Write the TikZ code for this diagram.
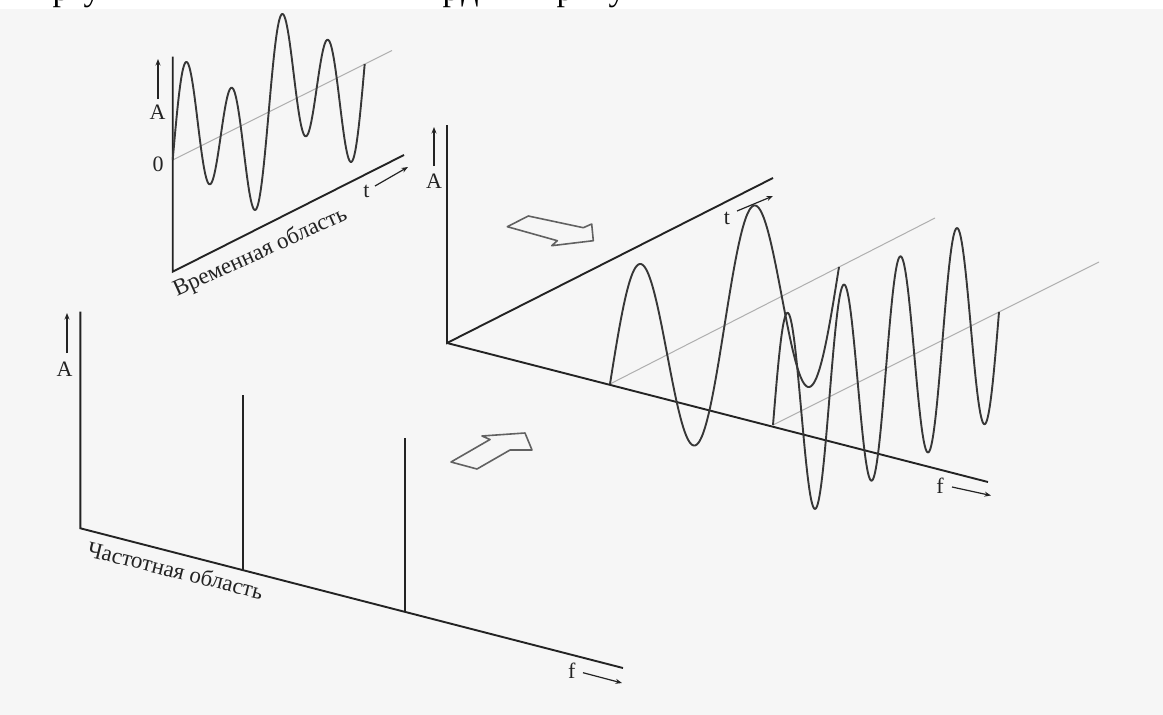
\documentclass[tikz,border=0pt]{standalone}
\usepackage{fontspec}
\setmainfont{Liberation Serif}
\usetikzlibrary{arrows.meta}
\definecolor{bgcol}{RGB}{246,246,246}
\definecolor{ink}{RGB}{35,35,35}
\definecolor{waveink}{RGB}{55,55,55}
\definecolor{zerogray}{RGB}{175,175,175}
\begin{document}
\begin{tikzpicture}[x=1pt,y=-1pt,
  axisline/.style={draw=ink, line width=1.9pt},
  specline/.style={draw=ink, line width=1.6pt},
  waveline/.style={draw=waveink, line width=1.9pt, line join=round},
  zeroline/.style={draw=zerogray, line width=1pt},
  lblarrow/.style={draw=ink, line width=1.2pt, -{Stealth[length=6.5pt,width=5pt]}},
  lbl/.style={font=\fontsize{22}{26}\selectfont, text=ink, inner sep=0pt},
  domainlbl/.style={font=\fontsize{23}{27}\selectfont, text=ink, inner sep=0pt, anchor=base west},
  blockarrow/.style={draw=black!62, line width=1.6pt, line join=round},
  frag/.style={font=\fontsize{34}{40}\selectfont, text=black, inner sep=0pt, anchor=base}
]
\useasboundingbox (0,0) rectangle (1163,715);
\fill[white] (0,0) rectangle (1163,9);
\fill[bgcol] (0,9) rectangle (1163,715);

% cut-off line of text at the top edge
\begin{scope}
\clip (0,0) rectangle (1163,12);
\node[frag] (fr1) at (61,0.5) {р};
\node[frag] (fr2) at (92,0.5) {у};
\node[frag] (fr3) at (451,0.5) {р};
\node[frag] (fr4) at (470,0.5) {д};
\node[frag] (fr5) at (565,0.5) {р};
\node[frag] (fr6) at (617,0.5) {у};
\end{scope}

% ---------- time domain ----------
\coordinate (tdTop) at (172.7,56.7);
\coordinate (tdO) at (172.7,271.7);
\coordinate (tdT) at (404,155);
\draw[zeroline] (172.7,160) -- (392,50.5);
\draw[axisline] (tdTop) -- (tdO) -- (tdT);
\draw[waveline] plot[domain=0:192, samples=260]
  ({172.7+\x}, {160 - 0.5*\x - 66*(0.52*sin(3.75*\x) + sin(7.5*\x))});
\node[lbl] (tdA) at (157.5,112) {A};
\coordinate (tdAa) at (158,99);
\coordinate (tdAb) at (158,59);
\draw[lblarrow] (tdAa) -- (tdAb);
\node[lbl] (td0) at (158,164) {0};
\node[lbl] (tdt) at (366.5,191) {t};
\coordinate (tdta) at (375,186);
\coordinate (tdtb) at (408,167);
\draw[lblarrow] (tdta) -- (tdtb);
\node[domainlbl, rotate=24.5] (tdname) at (177,297) {Временная область};

% ---------- 3D view ----------
\coordinate (O3) at (447,343);
\coordinate (A3) at (447,125);
\coordinate (T3) at (773,178);
\coordinate (F3) at (988,482);
\draw[zeroline] (610,384) -- (935,218);
\draw[zeroline] (773,425) -- (1099,262);
\draw[axisline] (A3) -- (O3) -- (T3);
\draw[axisline] (O3) -- (F3);
\draw[waveline] plot[domain=0:229, samples=260]
  ({610+\x}, {384 - 0.511*\x - 105*sin(3.1441*\x)});
\draw[waveline] plot[domain=0:226, samples=360]
  ({773+\x}, {425 - 0.5*\x - 105*sin(6.3717*\x)});
\node[lbl] (A3l) at (434,181) {A};
\coordinate (A3a) at (434,166);
\coordinate (A3b) at (434,127);
\draw[lblarrow] (A3a) -- (A3b);
\node[lbl] (t3l) at (727,218) {t};
\coordinate (t3a) at (737,211);
\coordinate (t3b) at (773,196);
\draw[lblarrow] (t3a) -- (t3b);
\node[lbl] (f3l) at (940,486) {f};
\coordinate (f3a) at (952,487);
\coordinate (f3b) at (991,495.5);
\draw[lblarrow] (f3a) -- (f3b);

% ---------- block arrows ----------
\draw[blockarrow] (507.3,226.7) -- (528.3,216) -- (583.3,227.7) -- (591.7,224)
  -- (593.3,240.7) -- (551.7,245.7) -- (557.3,240.7) -- cycle;
\draw[blockarrow] (451,462) -- (490,439.5) -- (482,436) -- (525,433)
  -- (532,450) -- (510,450) -- (477,469) -- cycle;

% ---------- frequency domain ----------
\coordinate (sTop) at (80.4,311.7);
\coordinate (sO) at (80.4,528.3);
\coordinate (sF) at (623,668);
\draw[axisline] (sTop) -- (sO) -- (sF);
\coordinate (s1t) at (243,395);
\coordinate (s1b) at (243,570);
\coordinate (s2t) at (405,438);
\coordinate (s2b) at (405,612);
\draw[specline] (s1t) -- (s1b);
\draw[specline] (s2t) -- (s2b);
\node[lbl] (sAl) at (64.5,369) {A};
\coordinate (sAa) at (67,353);
\coordinate (sAb) at (67,313);
\draw[lblarrow] (sAa) -- (sAb);
\node[lbl] (sfl) at (571.7,671) {f};
\coordinate (sfa) at (583,672.7);
\coordinate (sfb) at (622,683);
\draw[lblarrow] (sfa) -- (sfb);
\node[domainlbl, rotate=-14] (sname) at (86,556) {Частотная область};
\end{tikzpicture}
\end{document}
